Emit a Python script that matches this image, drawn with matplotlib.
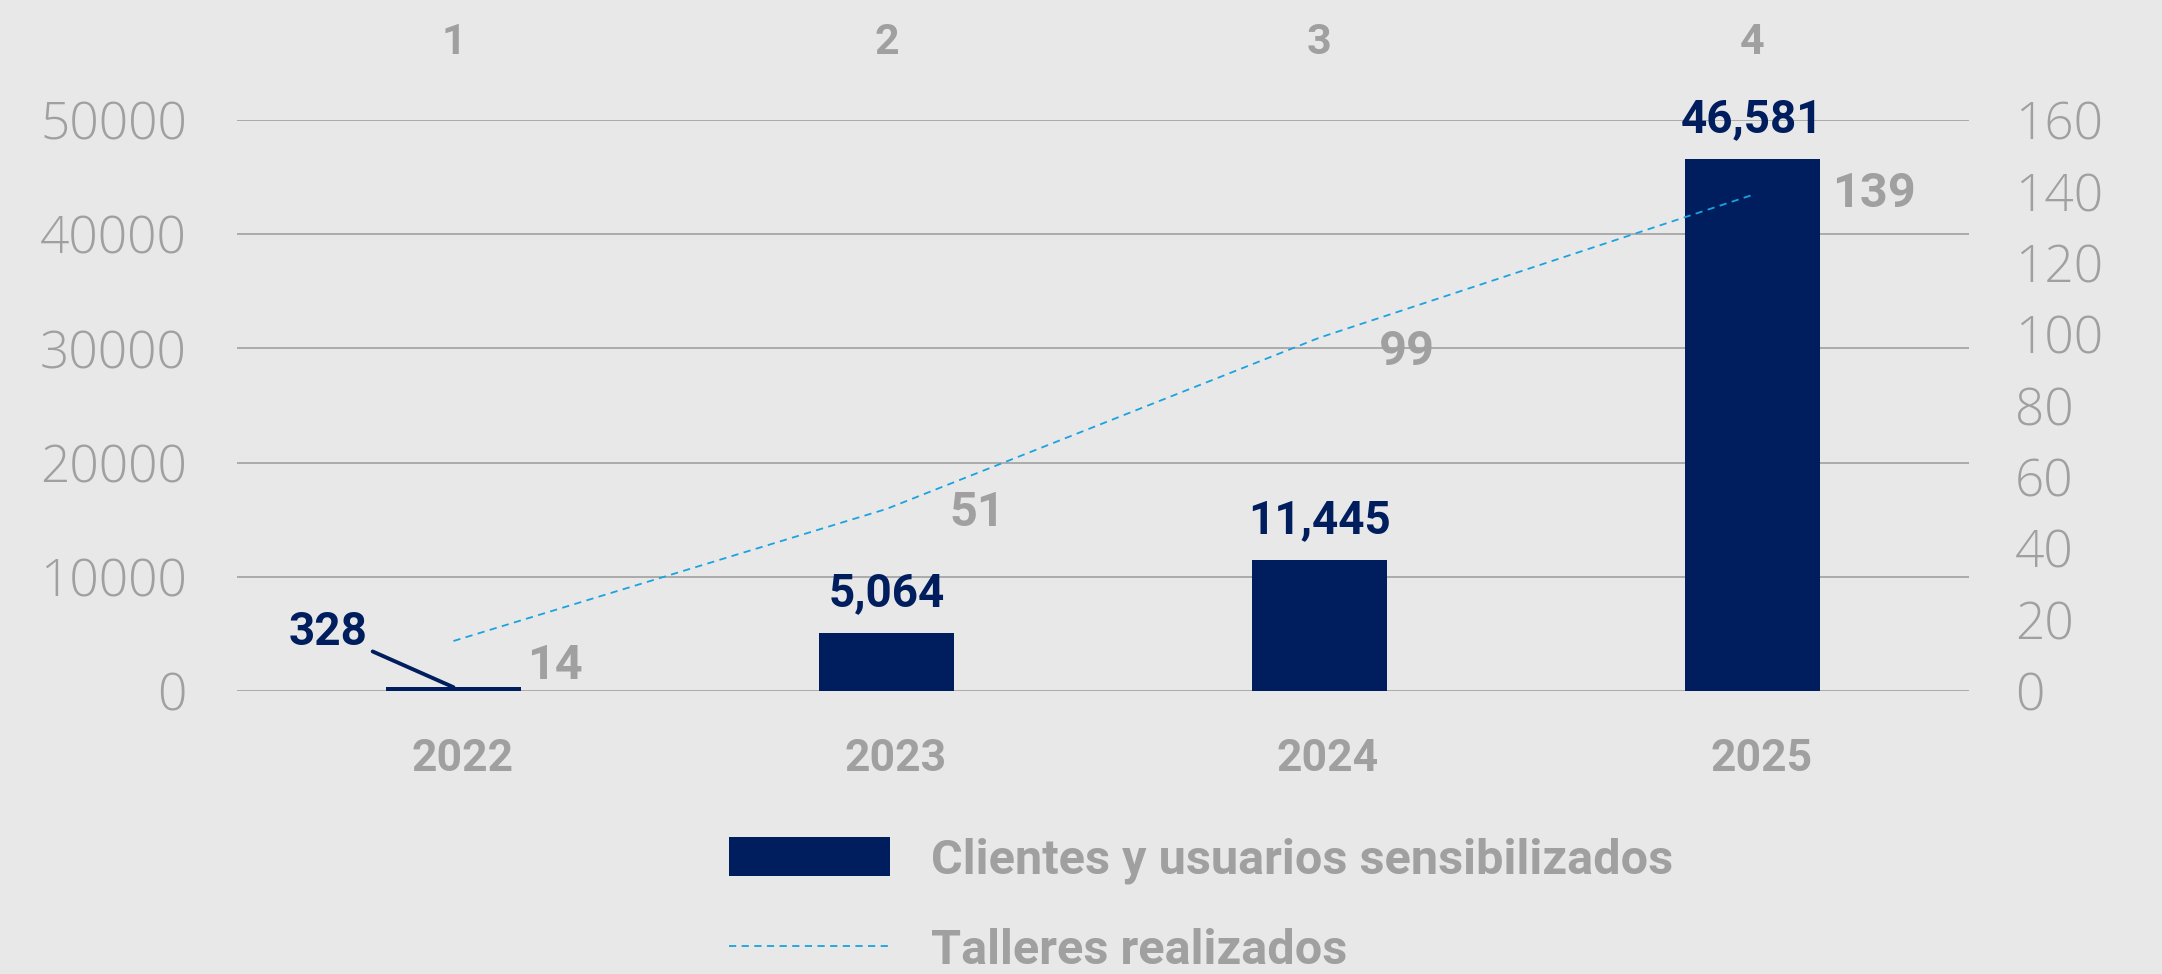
import numpy as np
import matplotlib.pyplot as plt
from matplotlib.patches import Patch
from matplotlib.lines import Line2D

years = ['2022', '2023', '2024', '2025']
top_labels = ['1', '2', '3', '4']
clientes = [328, 5064, 11445, 46581]
talleres = [14, 51, 99, 139]
clientes_txt = ['328', '5,064', '11,445', '46,581']

navy = '#001E5E'
blue = '#1AA3E0'
gray = '#A0A0A0'
grid = '#A6A6A6'
bg = '#E8E8E8'

bold_font = 'Roboto'
light_font = 'Open Sans'

fig = plt.figure(figsize=(21.62, 9.74), dpi=100, facecolor=bg)
ax = fig.add_axes([0.1096, 0.2906, 0.8011, 0.5862])
ax.set_facecolor(bg)
x = np.arange(len(years))

ax.bar(x, clientes, width=0.31, color=navy, zorder=3)
ax.set_ylim(0, 50000)
ax.set_xlim(-0.5, 3.5)
ax.set_yticks(np.arange(0, 50001, 10000))
ax.grid(axis='y', color=grid, lw=1.3, zorder=0)
ax.set_axisbelow(True)
for s in ax.spines.values():
    s.set_visible(False)
ax.tick_params(axis='y', length=0, pad=36, labelsize=37, labelcolor=gray)
ax.tick_params(axis='x', length=0, pad=34)
ax.set_xticks(x + 0.02, years)
for t in ax.get_yticklabels():
    t.set_fontfamily(light_font)
    t.set_fontweight('light')
for t in ax.get_xticklabels():
    t.set_fontfamily(bold_font)
    t.set_fontweight('bold')
    t.set_fontsize(32)
    t.set_color(gray)

top = ax.secondary_xaxis('top')
top.set_xticks(x, top_labels)
top.tick_params(length=0, pad=41)
for s in top.spines.values():
    s.set_visible(False)
for t in top.get_xticklabels():
    t.set_fontfamily(bold_font)
    t.set_fontweight('bold')
    t.set_fontsize(31)
    t.set_color(gray)

# bar value labels
for i, (v, txt) in enumerate(zip(clientes, clientes_txt)):
    if i == 0:
        ax.annotate(txt, xy=(x[i], v), xytext=(-62, 40), textcoords='offset points',
                    ha='right', va='center', fontsize=33, fontweight='bold',
                    family=bold_font, color=navy,
                    arrowprops=dict(arrowstyle='-', color=navy, lw=2.8,
                                    shrinkA=2, shrinkB=0))
    else:
        ax.annotate(txt, xy=(x[i], v), xytext=(0, 29), textcoords='offset points',
                    ha='center', va='center', fontsize=33, fontweight='bold',
                    family=bold_font, color=navy)

ax2 = ax.twinx()
ax2.set_ylim(0, 160)
ax2.set_yticks(np.arange(0, 161, 20))
ax2.plot(x, talleres, color=blue, lw=1.3, ls=(0, (4, 3)), zorder=4)
for s in ax2.spines.values():
    s.set_visible(False)
ax2.tick_params(axis='y', length=0, pad=33, labelsize=37, labelcolor=gray)
for t in ax2.get_yticklabels():
    t.set_fontfamily(light_font)
    t.set_fontweight('light')

line_offsets = [(53, -18), (45, -3), (43, -10), (57, 1)]
for i, v in enumerate(talleres):
    ax2.annotate(str(v), xy=(x[i], v), xytext=line_offsets[i], textcoords='offset points',
                 ha='left', va='center', fontsize=35, fontweight='bold',
                 family=bold_font, color=gray)

handles = [Patch(facecolor=navy, edgecolor='none'),
           Line2D([0], [0], color=blue, lw=1.3, ls=(0, (4, 3)))]
labels = ['Clientes y usuarios sensibilizados', 'Talleres realizados']
leg = fig.legend(handles, labels, loc='upper left', bbox_to_anchor=(0.317, 0.186),
                 frameon=False, handlelength=3.3, handleheight=0.88,
                 handletextpad=0.85, labelspacing=0.9,
                 prop={'family': bold_font, 'weight': 'bold', 'size': 35})
for t in leg.get_texts():
    t.set_color(gray)

fig.savefig('out.png', dpi=100, facecolor=bg)
